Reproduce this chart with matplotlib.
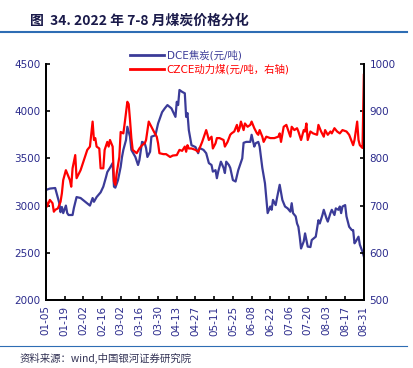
import pandas as pd
import matplotlib.pyplot as plt
import matplotlib.dates as mdates
from matplotlib.lines import Line2D

plt.rcParams['font.family'] = ['DejaVu Sans', 'Noto Sans CJK SC']

# DCE焦炭 (元/吨, 左轴)
dce_dates = ["01-05", "01-08", "01-12", "01-13", "01-15", "01-16", "01-17", "01-18", "01-20", "01-21",
             "01-22", "01-25", "01-26", "01-28", "01-31", "02-07", "02-09", "02-10", "02-12", "02-15",
             "02-17", "02-19", "02-20", "02-22", "02-24", "02-25", "02-26", "02-28", "03-02", "03-03",
             "03-04", "03-06", "03-07", "03-09", "03-10", "03-13", "03-15", "03-16", "03-18", "03-20",
             "03-21", "03-22", "03-24", "03-25", "03-28", "03-30", "04-02", "04-04", "04-06", "04-09",
             "04-12", "04-13", "04-14", "04-15", "04-17", "04-19", "04-20", "04-21", "04-22", "04-24",
             "04-27", "04-29", "04-30", "05-03", "05-05", "05-07", "05-09", "05-10", "05-12", "05-13",
             "05-14", "05-16", "05-18", "05-19", "05-20", "05-22", "05-23", "05-25", "05-27", "05-29",
             "06-01", "06-02", "06-04", "06-07", "06-08", "06-10", "06-11", "06-13", "06-14", "06-16",
             "06-18", "06-19", "06-20", "06-22", "06-23", "06-24", "06-26", "06-27", "06-29", "07-01",
             "07-03", "07-05", "07-07", "07-08", "07-09", "07-11", "07-12", "07-13", "07-14", "07-15",
             "07-17", "07-18", "07-19", "07-20", "07-22", "07-23", "07-26", "07-28", "07-29", "07-31",
             "08-01", "08-03", "08-04", "08-06", "08-07", "08-09", "08-10", "08-12", "08-13", "08-14",
             "08-15", "08-17", "08-18", "08-20", "08-22", "08-23", "08-24", "08-25", "08-27", "08-28",
             "08-30", "08-31"]
dce_price = [3165, 3180, 3186, 3133, 3030, 2930, 2985, 2920, 3000, 2920,
             2900, 2900, 2975, 3090, 3080, 3000, 3080, 3040, 3090, 3140,
             3200, 3300, 3355, 3400, 3450, 3200, 3190, 3270, 3410, 3515,
             3590, 3695, 3835, 3730, 3590, 3515, 3430, 3480, 3675, 3660,
             3610, 3515, 3570, 3730, 3745, 3870, 3990, 4030, 4065, 4030,
             3940, 4100, 4065, 4225, 4205, 4190, 3940, 3980, 3800, 3640,
             3620, 3555, 3610, 3590, 3555, 3450, 3430, 3360, 3375, 3290,
             3360, 3465, 3400, 3345, 3465, 3430, 3400, 3270, 3255, 3375,
             3500, 3665, 3675, 3675, 3750, 3625, 3660, 3675, 3625, 3400,
             3235, 3080, 2920, 2990, 2955, 3060, 3005, 3080, 3220, 3060,
             2990, 2970, 2935, 3025, 2920, 2885, 2810, 2775, 2670, 2545,
             2620, 2705, 2635, 2565, 2560, 2635, 2670, 2845, 2810, 2900,
             2955, 2865, 2830, 2920, 2955, 2900, 2970, 2955, 2990, 2920,
             2990, 3005, 2885, 2775, 2740, 2740, 2600, 2620, 2670, 2585,
             2510, 2460]

# CZCE动力煤 (元/吨, 右轴)
czce_dates = ["01-05", "01-06", "01-08", "01-10", "01-11", "01-12", "01-14", "01-16", "01-17", "01-18",
              "01-20", "01-21", "01-23", "01-24", "01-25", "01-27", "01-28", "01-31", "02-05", "02-07",
              "02-09", "02-10", "02-11", "02-12", "02-14", "02-15", "02-17", "02-18", "02-20", "02-21",
              "02-22", "02-24", "02-25", "02-26", "02-27", "03-01", "03-02", "03-04", "03-05", "03-07",
              "03-08", "03-09", "03-10", "03-11", "03-14", "03-16", "03-18", "03-20", "03-21", "03-23",
              "03-25", "03-27", "03-29", "03-30", "03-31", "04-03", "04-05", "04-08", "04-10", "04-13",
              "04-15", "04-17", "04-19", "04-20", "04-21", "04-22", "04-24", "04-27", "04-29", "05-02",
              "05-05", "05-06", "05-07", "05-09", "05-10", "05-12", "05-13", "05-15", "05-18", "05-19",
              "05-21", "05-23", "05-24", "05-26", "05-28", "05-29", "05-30", "05-31", "06-02", "06-03",
              "06-05", "06-07", "06-08", "06-10", "06-12", "06-13", "06-14", "06-16", "06-17", "06-19",
              "06-22", "06-25", "06-28", "06-29", "06-30", "07-02", "07-04", "07-07", "07-08", "07-10",
              "07-12", "07-13", "07-15", "07-17", "07-18", "07-19", "07-20", "07-22", "07-24", "07-27",
              "07-28", "07-30", "08-01", "08-02", "08-04", "08-06", "08-07", "08-09", "08-11", "08-13",
              "08-15", "08-18", "08-20", "08-22", "08-23", "08-24", "08-26", "08-27", "08-28", "08-30",
              "08-31"]
czce_price = [712, 698, 712, 705, 687, 691, 694, 708, 726, 754,
              775, 768, 754, 740, 779, 807, 758, 775, 818, 825,
              878, 839, 843, 825, 821, 779, 779, 818, 835, 825,
              839, 825, 751, 744, 768, 803, 856, 853, 874, 920,
              915, 881, 843, 818, 811, 821, 828, 832, 839, 878,
              867, 856, 846, 832, 811, 809, 809, 803, 806, 807,
              818, 816, 825, 814, 828, 821, 821, 818, 814, 835,
              860, 850, 839, 846, 821, 832, 843, 843, 839, 825,
              835, 850, 853, 857, 871, 857, 864, 878, 860, 874,
              867, 871, 878, 864, 853, 850, 860, 846, 835, 846,
              843, 843, 846, 853, 835, 867, 871, 846, 867, 860,
              864, 857, 839, 860, 857, 874, 839, 857, 853, 850,
              871, 857, 846, 860, 850, 857, 853, 864, 857, 853,
              860, 857, 850, 835, 828, 839, 878, 839, 828, 822,
              977]

navy = '#2b2b8c'
blue = '#3b3b98'
red = '#ff0000'

dce_x = pd.to_datetime(["2022-" + d for d in dce_dates])
czce_x = pd.to_datetime(["2022-" + d for d in czce_dates])

fig = plt.figure(figsize=(4.13, 3.68), dpi=100)
ax = fig.add_axes([0.111, 0.185, 0.770, 0.641])
ax2 = ax.twinx()

ax.plot(dce_x, dce_price, color=blue, lw=1.6)
ax2.plot(czce_x, czce_price, color=red, lw=1.6)

ax.set_ylim(2000, 4500)
ax.set_yticks(range(2000, 4501, 500))
ax2.set_ylim(500, 1000)
ax2.set_yticks(range(500, 1001, 100))

start = pd.Timestamp("2022-01-05")
end = pd.Timestamp("2022-08-31")
ax.set_xlim(start, end)
ax.set_xticks(pd.date_range(start, end, freq="14D"))
ax.xaxis.set_major_formatter(mdates.DateFormatter("%m-%d"))

for a in (ax, ax2):
    a.spines['top'].set_visible(False)
    for s in ('left', 'right', 'bottom'):
        a.spines[s].set_linewidth(1.3)
    a.tick_params(direction='in', length=3, width=1.2, labelsize=7.5, labelcolor=navy, pad=4)
ax.tick_params(axis='x', rotation=90)

handles = [Line2D([], [], color=blue, lw=2), Line2D([], [], color=red, lw=2)]
leg = fig.legend(handles, ["DCE焦炭(元/吨)", "CZCE动力煤(元/吨，右轴)"],
                 loc='upper left', bbox_to_anchor=(0.293, 0.89), frameon=False,
                 handlelength=3.2, handletextpad=0.3, labelspacing=0.35,
                 prop={'family': ['DejaVu Sans', 'Noto Sans CJK SC'], 'size': 7.5})
for t, c in zip(leg.get_texts(), [blue, red]):
    t.set_color(c)

fig.text(0.073, 0.944, "图  34. 2022 年 7-8 月煤炭价格分化", fontsize=10, fontweight='bold',
         color='#1a1a4a', family=['Noto Sans CJK SC'], va='center')
fig.add_artist(Line2D([0.0, 0.985], [0.913, 0.913], color='#2e6db4', lw=1.5))
fig.add_artist(Line2D([0.0, 0.985], [0.06, 0.06], color='#2e6db4', lw=0.8))
fig.text(0.048, 0.027, "资料来源：wind,中国银河证券研究院", fontsize=7.5, style='italic',
         color='#333355', family=['Noto Sans CJK SC'], va='center')

fig.savefig("out.png", dpi=100)
